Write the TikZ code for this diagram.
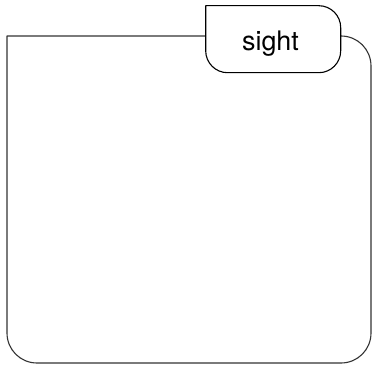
\documentclass[tikz,border=0pt]{standalone}
\usepackage{fontspec}
\setsansfont{TeX Gyre Heros}
\begin{document}
\begin{tikzpicture}[x=1bp,y=1bp,line width=1.1bp,line join=round]
    \useasboundingbox (0,0) rectangle (372,367);
    % frame
    \draw[black!80] (205.7,331) -- (7,331) [rounded corners=30] -- (7,4) -- (371,4) -- (371,331) -- (340.7,331);
    % tab
    \draw[fill=white] (205.7,361.3) [rounded corners=22] -- (340.7,361.3) -- (340.7,294.3) -- (205.7,294.3) [sharp corners] -- (205.7,361.3) -- cycle;
    \node[font=\sffamily\fontsize{27}{32}\selectfont, inner sep=0pt] (label) at (270.5,323.8) {sight};
\end{tikzpicture}
\end{document}
